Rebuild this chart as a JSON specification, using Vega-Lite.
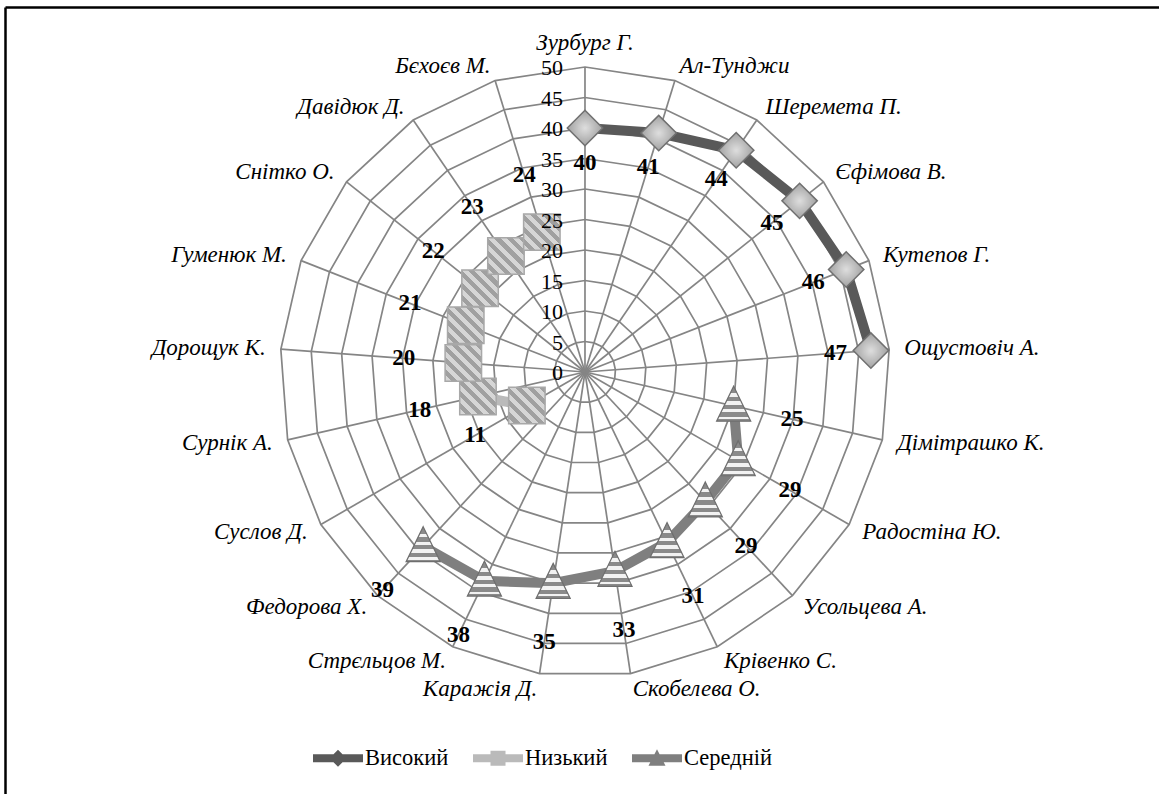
{
  "$schema": "https://vega.github.io/schema/vega-lite/v6.json",
  "width": 1154,
  "height": 787,
  "autosize": {"type": "none"},
  "padding": {"left": 5, "top": 7, "right": 0, "bottom": 0},
  "background": "white",
  "config": {"view": {"stroke": null}},
  "datasets": {
    "cats": [
      {"i": 0, "name": "Зурбург Г."},
      {"i": 1, "name": "Ал-Тунджи"},
      {"i": 2, "name": "Шеремета П."},
      {"i": 3, "name": "Єфімова В."},
      {"i": 4, "name": "Кутепов Г."},
      {"i": 5, "name": "Ощустовіч А."},
      {"i": 6, "name": "Дімітрашко К."},
      {"i": 7, "name": "Радостіна Ю."},
      {"i": 8, "name": "Усольцева А."},
      {"i": 9, "name": "Крівенко С."},
      {"i": 10, "name": "Скобелева О."},
      {"i": 11, "name": "Каражія Д."},
      {"i": 12, "name": "Стрєльцов М."},
      {"i": 13, "name": "Федорова Х."},
      {"i": 14, "name": "Суслов Д."},
      {"i": 15, "name": "Сурнік А."},
      {"i": 16, "name": "Дорощук К."},
      {"i": 17, "name": "Гуменюк М."},
      {"i": 18, "name": "Снітко О."},
      {"i": 19, "name": "Давідюк Д."},
      {"i": 20, "name": "Бєхоєв М."}
    ],
    "series": [
      {"i": 0, "name": "Зурбург Г.", "series": "Високий", "value": 40},
      {"i": 1, "name": "Ал-Тунджи", "series": "Високий", "value": 41},
      {"i": 2, "name": "Шеремета П.", "series": "Високий", "value": 44},
      {"i": 3, "name": "Єфімова В.", "series": "Високий", "value": 45},
      {"i": 4, "name": "Кутепов Г.", "series": "Високий", "value": 46},
      {"i": 5, "name": "Ощустовіч А.", "series": "Високий", "value": 47},
      {"i": 6, "name": "Дімітрашко К.", "series": "Середній", "value": 25},
      {"i": 7, "name": "Радостіна Ю.", "series": "Середній", "value": 29},
      {"i": 8, "name": "Усольцева А.", "series": "Середній", "value": 29},
      {"i": 9, "name": "Крівенко С.", "series": "Середній", "value": 31},
      {"i": 10, "name": "Скобелева О.", "series": "Середній", "value": 33},
      {"i": 11, "name": "Каражія Д.", "series": "Середній", "value": 35},
      {"i": 12, "name": "Стрєльцов М.", "series": "Середній", "value": 38},
      {"i": 13, "name": "Федорова Х.", "series": "Середній", "value": 39},
      {"i": 14, "name": "Суслов Д.", "series": "Низький", "value": 11},
      {"i": 15, "name": "Сурнік А.", "series": "Низький", "value": 18},
      {"i": 16, "name": "Дорощук К.", "series": "Низький", "value": 20},
      {"i": 17, "name": "Гуменюк М.", "series": "Низький", "value": 21},
      {"i": 18, "name": "Снітко О.", "series": "Низький", "value": 22},
      {"i": 19, "name": "Давідюк Д.", "series": "Низький", "value": 23},
      {"i": 20, "name": "Бєхоєв М.", "series": "Низький", "value": 24}
    ],
    "ticks": [
      {"t": 0}, {"t": 5}, {"t": 10}, {"t": 15}, {"t": 20}, {"t": 25},
      {"t": 30}, {"t": 35}, {"t": 40}, {"t": 45}, {"t": 50}
    ]
  },
  "encoding": {
    "x": {
      "field": "x", "type": "quantitative",
      "scale": {"domain": [-95.08, 94.10], "nice": false, "zero": false},
      "axis": {"orient": "top", "domain": true, "domainColor": "#000000", "domainWidth": 2.5, "ticks": false, "labels": false, "grid": false, "title": null}
    },
    "y": {
      "field": "y", "type": "quantitative",
      "scale": {"domain": [-69.18, 59.84], "nice": false, "zero": false},
      "axis": {"orient": "left", "domain": true, "domainColor": "#000000", "domainWidth": 2.5, "ticks": false, "labels": false, "grid": false, "title": null}
    }
  },
  "layer": [
    {
      "data": {"name": "cats"},
      "transform": [
        {"calculate": "[5,10,15,20,25,30,35,40,45,50]", "as": "rings"},
        {"flatten": ["rings"], "as": ["r"]},
        {"calculate": "datum.r * sin(datum.i * 2 * PI / 21)", "as": "x"},
        {"calculate": "datum.r * cos(datum.i * 2 * PI / 21)", "as": "y"}
      ],
      "mark": {"type": "line", "interpolate": "linear-closed", "color": "#858585", "strokeWidth": 1.7},
      "encoding": {
        "detail": {"field": "r", "type": "nominal"},
        "order": {"field": "i", "type": "quantitative"}
      }
    },
    {
      "data": {"name": "cats"},
      "transform": [
        {"calculate": "50 * sin(datum.i * 2 * PI / 21)", "as": "x"},
        {"calculate": "50 * cos(datum.i * 2 * PI / 21)", "as": "y"}
      ],
      "mark": {"type": "rule", "color": "#858585", "strokeWidth": 1.7},
      "encoding": {
        "x2": {"datum": 0},
        "y2": {"datum": 0}
      }
    },
    {
      "data": {"name": "series"},
      "transform": [
        {"calculate": "datum.value * sin(datum.i * 2 * PI / 21)", "as": "x"},
        {"calculate": "datum.value * cos(datum.i * 2 * PI / 21)", "as": "y"}
      ],
      "mark": {"type": "line", "strokeWidth": 10},
      "encoding": {
        "color": {
          "field": "series", "type": "nominal",
          "scale": {"domain": ["Високий", "Низький", "Середній"], "range": ["#595959", "#bababa", "#7f7f7f"]},
          "legend": {
            "orient": "none", "legendX": 308, "legendY": 726, "direction": "horizontal",
            "title": null, "symbolSize": 2500, "labelFont": "Liberation Serif", "labelFontSize": 22.5,
            "labelColor": "#000000", "labelOffset": 2, "columnPadding": 24, "padding": 0,
            "encode": {
              "symbols": {
                "update": {
                  "shape": {"signal": "datum.value === 'Високий' ? 'M-1,-0.16H1V0.16H-1Z M0,-0.34L0.34,0L0,0.34L-0.34,0Z' : datum.value === 'Низький' ? 'M-1,-0.16H1V0.16H-1Z M-0.3,-0.3H0.3V0.3H-0.3Z' : 'M-1,-0.16H1V0.16H-1Z M0,-0.36L0.34,0.3L-0.34,0.3Z'"},
                  "fill": {"signal": "scale('color', datum.value)"},
                  "fillOpacity": {"value": 1},
                  "strokeWidth": {"value": 0}
                }
              }
            }
          }
        },
        "detail": {"field": "series", "type": "nominal"},
        "order": {"field": "i", "type": "quantitative"}
      }
    },
    {
      "data": {"name": "series"},
      "transform": [
        {"filter": "datum.series === 'Високий'"},
        {"calculate": "datum.value * sin(datum.i * 2 * PI / 21)", "as": "x"},
        {"calculate": "datum.value * cos(datum.i * 2 * PI / 21)", "as": "y"}
      ],
      "mark": {
        "type": "point", "shape": "diamond", "size": 1250, "filled": true, "opacity": 1,
        "fill": {"gradient": "radial", "x1": 0.5, "y1": 0.5, "r1": 0, "x2": 0.5, "y2": 0.5, "r2": 0.55,
          "stops": [{"offset": 0, "color": "#dedede"}, {"offset": 1, "color": "#9c9c9c"}]},
        "stroke": "#707070", "strokeWidth": 1.5
      }
    },
    {
      "data": {"name": "series"},
      "transform": [
        {"filter": "datum.series === 'Низький'"},
        {"calculate": "datum.value * sin(datum.i * 2 * PI / 21)", "as": "x"},
        {"calculate": "datum.value * cos(datum.i * 2 * PI / 21)", "as": "y"}
      ],
      "mark": {
        "type": "point", "shape": "square", "size": 1330, "filled": true, "opacity": 1,
        "fill": {"gradient": "linear", "x1": 0, "y1": 1, "x2": 1, "y2": 0,
          "stops": [
            {"offset": 0, "color": "#d6d6d6"}, {"offset": 0.0833, "color": "#d6d6d6"},
            {"offset": 0.0833, "color": "#a0a0a0"}, {"offset": 0.1667, "color": "#a0a0a0"},
            {"offset": 0.1667, "color": "#d6d6d6"}, {"offset": 0.25, "color": "#d6d6d6"},
            {"offset": 0.25, "color": "#a0a0a0"}, {"offset": 0.3333, "color": "#a0a0a0"},
            {"offset": 0.3333, "color": "#d6d6d6"}, {"offset": 0.4167, "color": "#d6d6d6"},
            {"offset": 0.4167, "color": "#a0a0a0"}, {"offset": 0.5, "color": "#a0a0a0"},
            {"offset": 0.5, "color": "#d6d6d6"}, {"offset": 0.5833, "color": "#d6d6d6"},
            {"offset": 0.5833, "color": "#a0a0a0"}, {"offset": 0.6667, "color": "#a0a0a0"},
            {"offset": 0.6667, "color": "#d6d6d6"}, {"offset": 0.75, "color": "#d6d6d6"},
            {"offset": 0.75, "color": "#a0a0a0"}, {"offset": 0.8333, "color": "#a0a0a0"},
            {"offset": 0.8333, "color": "#d6d6d6"}, {"offset": 0.9167, "color": "#d6d6d6"},
            {"offset": 0.9167, "color": "#a0a0a0"}, {"offset": 1, "color": "#a0a0a0"}
          ]},
        "stroke": "#a8a8a8", "strokeWidth": 1.5
      }
    },
    {
      "data": {"name": "series"},
      "transform": [
        {"filter": "datum.series === 'Середній'"},
        {"calculate": "datum.value * sin(datum.i * 2 * PI / 21)", "as": "x"},
        {"calculate": "datum.value * cos(datum.i * 2 * PI / 21)", "as": "y"}
      ],
      "mark": {
        "type": "point", "shape": "M0,-1.1L0.95,0.85L-0.95,0.85Z", "size": 1290, "filled": true, "opacity": 1,
        "fill": {"gradient": "linear", "x1": 0, "y1": 0, "x2": 0, "y2": 1,
          "stops": [
            {"offset": 0, "color": "#8a8a8a"}, {"offset": 0.2, "color": "#8a8a8a"},
            {"offset": 0.2, "color": "#f2f2f2"}, {"offset": 0.3, "color": "#f2f2f2"},
            {"offset": 0.3, "color": "#8a8a8a"}, {"offset": 0.43, "color": "#8a8a8a"},
            {"offset": 0.43, "color": "#f2f2f2"}, {"offset": 0.53, "color": "#f2f2f2"},
            {"offset": 0.53, "color": "#8a8a8a"}, {"offset": 0.65, "color": "#8a8a8a"},
            {"offset": 0.65, "color": "#f2f2f2"}, {"offset": 0.75, "color": "#f2f2f2"},
            {"offset": 0.75, "color": "#8a8a8a"}, {"offset": 0.87, "color": "#8a8a8a"},
            {"offset": 0.87, "color": "#f2f2f2"}, {"offset": 0.94, "color": "#f2f2f2"},
            {"offset": 0.94, "color": "#8a8a8a"}, {"offset": 1, "color": "#8a8a8a"}
          ]},
        "stroke": "#6e6e6e", "strokeWidth": 1.2
      }
    },
    {
      "data": {"name": "ticks"},
      "transform": [
        {"calculate": "0", "as": "x"},
        {"calculate": "datum.t", "as": "y"}
      ],
      "mark": {"type": "text", "align": "right", "baseline": "middle", "dx": -22, "dy": 1, "font": "Liberation Serif", "fontSize": 22, "color": "#000000"},
      "encoding": {"text": {"field": "t", "type": "quantitative"}}
    },
    {
      "data": {"name": "series"},
      "transform": [
        {"calculate": "datum.series === 'Високий' ? datum.value - 5.8 : datum.value + 9.8", "as": "lr"},
        {"calculate": "datum.lr * sin(datum.i * 2 * PI / 21)", "as": "x"},
        {"calculate": "datum.lr * cos(datum.i * 2 * PI / 21)", "as": "y"}
      ],
      "mark": {"type": "text", "align": "center", "baseline": "middle", "font": "Liberation Serif", "fontWeight": "bold", "fontSize": 23, "color": "#000000"},
      "encoding": {"text": {"field": "value", "type": "quantitative"}}
    },
    {
      "data": {"name": "cats"},
      "transform": [
        {"calculate": "sin(datum.i * 2 * PI / 21)", "as": "s"},
        {"filter": "datum.s > 0.01"},
        {"calculate": "52.5 * sin(datum.i * 2 * PI / 21)", "as": "x"},
        {"calculate": "52.5 * cos(datum.i * 2 * PI / 21)", "as": "y"}
      ],
      "mark": {"type": "text", "align": "left", "baseline": "middle", "font": "Liberation Serif", "fontStyle": "italic", "fontSize": 23, "color": "#000000"},
      "encoding": {"text": {"field": "name", "type": "nominal"}}
    },
    {
      "data": {"name": "cats"},
      "transform": [
        {"calculate": "sin(datum.i * 2 * PI / 21)", "as": "s"},
        {"filter": "datum.s < -0.01"},
        {"calculate": "52.5 * sin(datum.i * 2 * PI / 21)", "as": "x"},
        {"calculate": "52.5 * cos(datum.i * 2 * PI / 21)", "as": "y"}
      ],
      "mark": {"type": "text", "align": "right", "baseline": "middle", "font": "Liberation Serif", "fontStyle": "italic", "fontSize": 23, "color": "#000000"},
      "encoding": {"text": {"field": "name", "type": "nominal"}}
    },
    {
      "data": {"name": "cats"},
      "transform": [
        {"calculate": "sin(datum.i * 2 * PI / 21)", "as": "s"},
        {"filter": "abs(datum.s) <= 0.01"},
        {"calculate": "52.5 * sin(datum.i * 2 * PI / 21)", "as": "x"},
        {"calculate": "52.5 * cos(datum.i * 2 * PI / 21)", "as": "y"}
      ],
      "mark": {"type": "text", "align": "center", "baseline": "middle", "dy": -9, "font": "Liberation Serif", "fontStyle": "italic", "fontSize": 23, "color": "#000000"},
      "encoding": {"text": {"field": "name", "type": "nominal"}}
    }
  ]
}
